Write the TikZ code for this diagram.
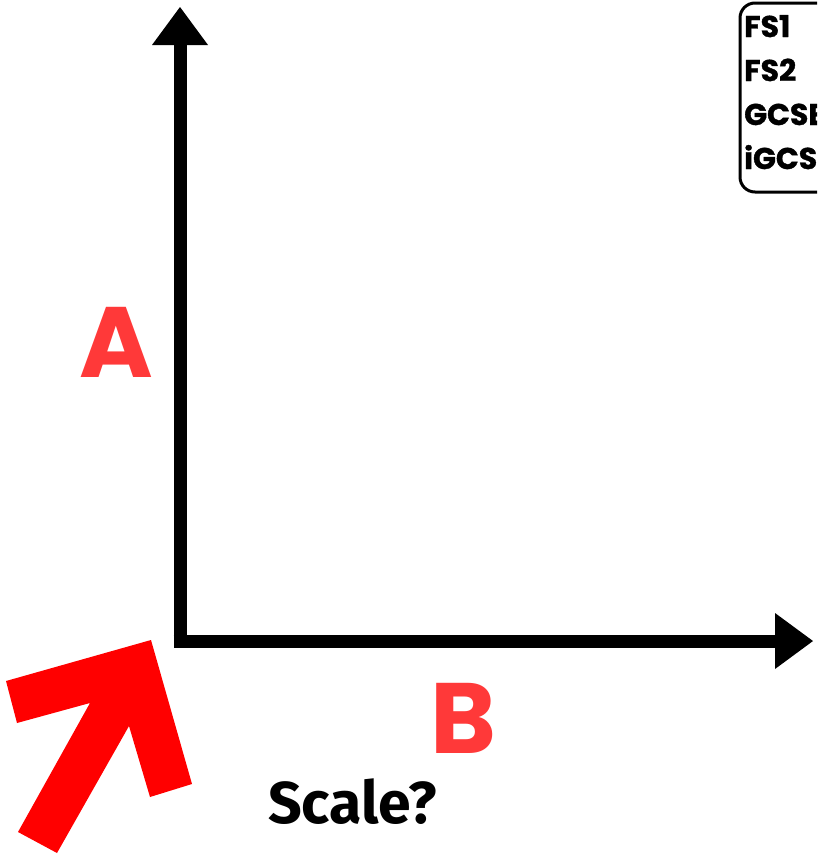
\documentclass[tikz,border=0pt]{standalone}
\usepackage{fontspec}
\setmainfont{Poppins}
\newfontfamily\keyfont[BoldFeatures={FakeBold=1.2}]{Poppins}
\newfontfamily\scalefont{Fira Sans}
\usetikzlibrary{positioning,arrows.meta}
\definecolor{labelred}{RGB}{255,57,57}
\definecolor{pointred}{RGB}{255,0,0}
\tikzset{
axisline/.style={line width=13pt,black,-{Triangle[length=38pt,width=56pt,line width=0pt]}},
axislabel/.style={anchor=base west,inner sep=0pt,text=labelred,font=\fontsize{100}{100}\selectfont\bfseries},
keybox/.style={draw=black,line width=3pt,rounded corners=15pt},
keyentry/.style={anchor=base west,inner sep=0pt,font=\fontsize{30}{30}\selectfont\keyfont\bfseries},
scalelabel/.style={anchor=base west,inner sep=0pt,font=\fontsize{59}{59}\selectfont\scalefont\bfseries},
bigpointer/.style={fill=pointred,draw=none}
}
\begin{document}
\begin{tikzpicture}[x=1pt,y=-1pt]
\useasboundingbox (0,0) rectangle (817,857);
\clip (0,0) rectangle (817,857);
% axes
\coordinate (origin) at (180,641);
\coordinate (ytop) at (180,7);
\coordinate (xend) at (813,641);
\draw[axisline] ([yshift=-6.5pt]origin) -- (ytop);
\draw[axisline] ([xshift=-6.5pt]origin) -- (xend);
\node[axislabel] (alabel) at (79,377) {A};
\node[axislabel] (blabel) at (430,753) {B};
% key, cut off at the right
\draw[keybox] (740,3) rectangle (860,192);
\foreach \name [count=\i from 0] in {FS1,FS2,GCSE,iGCSE}
  \node[keyentry] (key\i) at (744,37+44*\i) {\name};
% pointer to the origin
\fill[bigpointer] (151,640) -- (6,681) -- (17,723) -- (90,703) -- (18,832)
  -- (57,853) -- (129,726) -- (150,797) -- (192,784) -- cycle;
\node[scalelabel] (scaleq) at (268,823) {Scale?};
\end{tikzpicture}
\end{document}
